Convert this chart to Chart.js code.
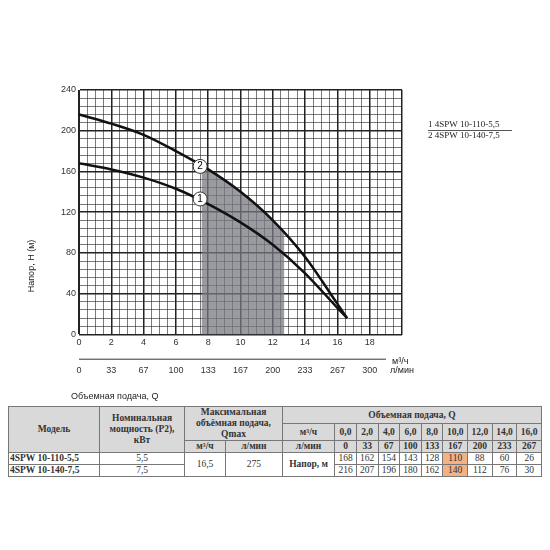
<!DOCTYPE html>
<html><head><meta charset="utf-8">
<script src="https://cdn.jsdelivr.net/npm/chart.js@4"></script>
<style>
body{margin:0;background:#fff;width:550px;height:550px;overflow:hidden;font-family:"Liberation Serif",serif}
#wrap{position:absolute;left:0;top:80px;width:550px;height:322px}
table{position:absolute;left:8px;top:406px;width:534px;border-collapse:collapse;font-size:9.5px;color:#333}
td{border:1px solid #777;text-align:center;padding:0 1px;height:11px;line-height:11px}
.h{background:#d9d9d9;font-weight:bold}
.o{background:#f4b183}
.l{text-align:left}
</style></head><body>
<div id="wrap"><canvas id="c"></canvas></div>
<table id="t"></table>
<script>
const flowM3 = [0,2,4,6,8,10,12,14,16,16.6];
const head1 = [168,162,154,143,128,110,88,60,26,16];
const head2 = [216,207,196,180,162,140,112,76,30,16];
const lminLabels = ['0','33','67','100','133','167','200','233','267','300'];
const models = ['4SPW 10-110-5,5','4SPW 10-140-7,5'];
const power = ['5,5','7,5'];
const tableQ = ['0,0','2,0','4,0','6,0','8,0','10,0','12,0','14,0','16,0'];
const tableL = ['0','33','67','100','133','167','200','233','267'];
const shadeFrom = 7.6, shadeTo = 12.7;
const markers = [{x:7.5,y:133,t:'1'},{x:7.5,y:165,t:'2'}];

const t=document.getElementById('t');
let h='<tr class="h"><td rowspan="3">Модель</td><td rowspan="3">Номинальная<br>мощность (Р2),<br>кВт</td><td colspan="2" rowspan="2">Максимальная<br>объёмная подача,<br>Qmax</td><td colspan="10">Объемная подача, Q</td></tr>';
h+='<tr class="h"><td>м³/ч</td>'+tableQ.map(v=>'<td>'+v+'</td>').join('')+'</tr>';
h+='<tr class="h"><td>м³/ч</td><td>л/мин</td><td>л/мин</td>'+tableL.map(v=>'<td>'+v+'</td>').join('')+'</tr>';
[head1,head2].forEach((hd,i)=>{
 h+='<tr><td class="l" style="font-weight:bold">'+models[i]+'</td><td>'+power[i]+'</td>';
 if(i==0) h+='<td rowspan="2">16,5</td><td rowspan="2">275</td><td rowspan="2" style="font-weight:bold">Напор, м</td>';
 h+=hd.slice(0,9).map((v,j)=>'<td'+(j==5?' class="o"':'')+'>'+v+'</td>').join('')+'</tr>';
});
t.innerHTML=h;

const shade={id:'shade',beforeDatasetsDraw(ch){
 const {ctx,scales:{x,y}}=ch; const meta=ch.getDatasetMeta(1);
 ctx.save(); ctx.beginPath();
 ctx.rect(x.getPixelForValue(shadeFrom),y.top,x.getPixelForValue(shadeTo)-x.getPixelForValue(shadeFrom),y.bottom-y.top);
 ctx.clip();
 ctx.beginPath(); meta.dataset.path(ctx);
 const pts=meta.data; ctx.lineTo(pts[pts.length-1].x,y.bottom); ctx.lineTo(pts[0].x,y.bottom); ctx.closePath();
 ctx.fillStyle='rgba(120,120,130,0.75)'; ctx.fill(); ctx.restore();
},afterDatasetsDraw(ch){
 const {ctx,scales:{x,y,x2}}=ch;
 ctx.save();
 markers.forEach(m=>{const px=x.getPixelForValue(m.x),py=y.getPixelForValue(m.y);
  ctx.beginPath();ctx.arc(px,py,7,0,Math.PI*2);ctx.fillStyle='#fff';ctx.fill();ctx.strokeStyle='#333';ctx.lineWidth=1;ctx.stroke();
  ctx.fillStyle='#000';ctx.font='10px Liberation Sans';ctx.textAlign='center';ctx.textBaseline='middle';ctx.fillText(m.t,px,py);});
 ctx.font='9px Liberation Sans';ctx.fillStyle='#222';ctx.textAlign='left';ctx.textBaseline='middle';
 ctx.fillText('м³/ч',x.right-10,x.bottom+10);
 ctx.fillText('л/мин',x.right-12,x2.top+19);
 ctx.fillText('Объемная подача, Q',x.left-8,x2.bottom+7);
 ctx.strokeStyle='#333';ctx.beginPath();ctx.moveTo(x2.left,x2.top+8);ctx.lineTo(x2.right-16,x2.top+8);ctx.stroke();
 ctx.translate(x.left-48,y.top+(y.bottom-y.top)*0.72);ctx.rotate(-Math.PI/2);ctx.textAlign='center';ctx.fillText('Напор, Н (м)',0,0);
 ctx.restore();
 ctx.save();ctx.font='9px Liberation Serif';ctx.fillStyle='#222';ctx.textBaseline='middle';
 ctx.fillText('1 4SPW 10-110-5,5',428,45);ctx.fillText('2 4SPW 10-140-7,5',428,56);
 ctx.strokeStyle='#555';ctx.beginPath();ctx.moveTo(428,50.5);ctx.lineTo(512,50.5);ctx.stroke();ctx.restore();
}};
new Chart(document.getElementById('c'),{type:'scatter',
 data:{datasets:[
  {data:flowM3.map((v,i)=>({x:v,y:head1[i]})),showLine:true,borderColor:'#111',borderWidth:2.5,pointRadius:0,tension:0.4,cubicInterpolationMode:'monotone'},
  {data:flowM3.map((v,i)=>({x:v,y:head2[i]})),showLine:true,borderColor:'#111',borderWidth:2.5,pointRadius:0,tension:0.4,cubicInterpolationMode:'monotone'}]},
 plugins:[shade],
 options:{responsive:true,maintainAspectRatio:false,animation:false,
  layout:{padding:{left:58,right:148,top:10,bottom:12}},
  plugins:{legend:{display:false},tooltip:{enabled:false}},
  scales:{
   x:{min:0,max:20,afterBuildTicks(s){const a=[];for(let v=0;v<=20;v+=0.5)a.push({value:v});s.ticks=a;},
    ticks:{autoSkip:false,maxRotation:0,color:'#333',font:{size:9,family:'Liberation Sans'},callback:(v)=>(v%2===0&&v<20)?String(v):''},
    grid:{color:'#222',lineWidth:c=>c.tick&&c.tick.value%2===0?1.5:0.6,drawTicks:false},border:{color:'#222'}},
   x2:{position:'bottom',type:'linear',min:0,max:20,grid:{display:false,drawTicks:false},border:{display:false},
    afterBuildTicks(s){s.ticks=lminLabels.map((l,i)=>({value:i*2}));},
    ticks:{autoSkip:false,maxRotation:0,padding:14,color:'#333',font:{size:9,family:'Liberation Sans'},callback:(v,i)=>lminLabels[i]}},
   y:{min:0,max:240,afterBuildTicks(s){const a=[];for(let v=0;v<=240;v+=8)a.push({value:v});s.ticks=a;},
    ticks:{autoSkip:false,color:'#333',font:{size:9,family:'Liberation Sans'},callback:v=>v%40===0?String(v):''},
    grid:{color:'#222',lineWidth:c=>c.tick&&c.tick.value%40===0?1.5:0.6,drawTicks:false},border:{color:'#222'}}
  }}});
</script></body></html>
